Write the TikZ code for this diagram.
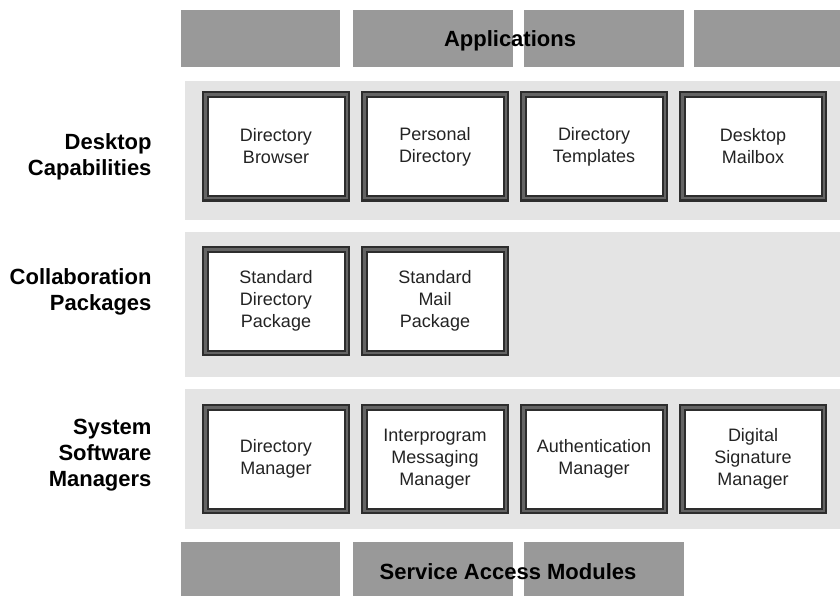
\documentclass[tikz,border=0pt]{standalone}
\usepackage{fontspec}
\setmainfont{Liberation Sans}
\usetikzlibrary{positioning}
\definecolor{bargray}{RGB}{153,153,153}
\definecolor{bandgray}{RGB}{228,228,228}
\definecolor{rimdark}{RGB}{45,45,45}
\definecolor{rimmid}{RGB}{100,100,100}
\definecolor{inktext}{RGB}{35,35,35}
\tikzset{
  barseg/.style={fill=bargray, inner sep=0pt, anchor=north west},
  band/.style={fill=bandgray, inner sep=0pt, minimum width=655pt, anchor=north west},
  compbox/.style={draw=rimdark, double=rimmid, line width=2pt, double distance=2.5pt,
    fill=white, outer sep=0pt, minimum width=141.5pt, minimum height=103.5pt,
    align=center, text=inktext, font=\fontsize{18}{22}\selectfont},
  layerlabel/.style={anchor=east, align=right, font=\bfseries\fontsize{22}{26}\selectfont},
  bartitle/.style={font=\bfseries\fontsize{22}{26}\selectfont}
}

\begin{document}
\begin{tikzpicture}[x=1pt, y=-1pt, node distance=17.5pt]
\useasboundingbox (0,0) rectangle (840,596);

% applications bar on top
\node[barseg, minimum width=159pt, minimum height=57pt] (app1) at (181,10) {};
\node[barseg, minimum width=160pt, minimum height=57pt, right=12pt of app1] (app2) {};
\node[barseg, minimum width=160pt, minimum height=57pt, right=11pt of app2] (app3) {};
\node[barseg, minimum width=147pt, minimum height=57pt, right=10pt of app3] (app4) {};
\node[bartitle] (apptitle) at (510,41) {Applications};

% layer bands
\node[band, minimum height=139pt] (deskband) at (185,81) {};
\node[band, minimum height=145pt] (collband) at (185,232) {};
\node[band, minimum height=140pt] (sysband) at (185,389) {};

\node[layerlabel] (desklabel) at (155,157) {Desktop\\Capabilities};
\node[layerlabel] (colllabel) at (155,292) {Collaboration\\Packages};
\node[layerlabel] (syslabel) at (155,455) {System\\Software\\Managers};

% desktop capabilities
\node[compbox] (dirbrowser) at (276,146.5) {Directory\\Browser};
\node[compbox, right=of dirbrowser] (persdir) {Personal\\Directory};
\node[compbox, right=of persdir] (dirtempl) {Directory\\Templates};
\node[compbox, right=of dirtempl] (mailbox) {Desktop\\Mailbox};

% collaboration packages
\node[compbox] (stddirpkg) at (276,301) {Standard\\Directory\\Package};
\node[compbox, right=of stddirpkg] (stdmailpkg) {Standard\\Mail\\Package};

% system software managers
\node[compbox] (dirmgr) at (276,459) {Directory\\Manager};
\node[compbox, right=of dirmgr] (msgmgr) {Interprogram\\Messaging\\Manager};
\node[compbox, right=of msgmgr] (authmgr) {Authentication\\Manager};
\node[compbox, right=of authmgr] (sigmgr) {Digital\\Signature\\Manager};

% service access modules at the bottom
\node[barseg, minimum width=159pt, minimum height=60pt] (svc1) at (181,542) {};
\node[barseg, minimum width=160pt, minimum height=60pt, right=12pt of svc1] (svc2) {};
\node[barseg, minimum width=160pt, minimum height=60pt, right=11pt of svc2] (svc3) {};
\node[bartitle] (svctitle) at (508,572) {Service Access Modules};
\end{tikzpicture}
\end{document}
